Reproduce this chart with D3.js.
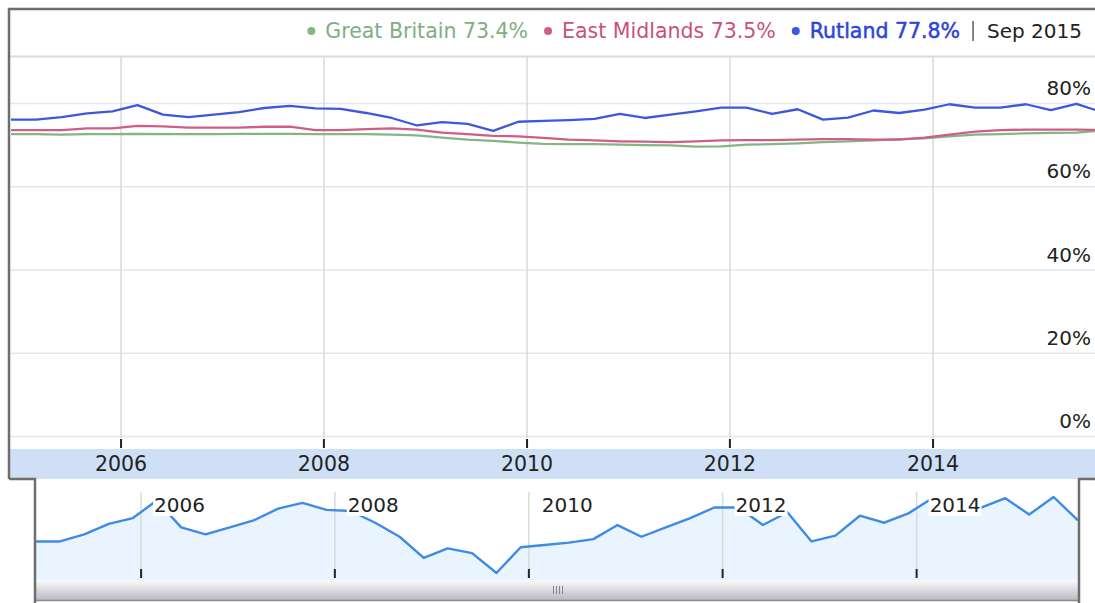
<!DOCTYPE html>
<html>
<head>
<meta charset="utf-8">
<script src="https://cdn.jsdelivr.net/npm/d3@7"></script>
<style>
  body { margin: 0; background: #fff; }
  svg { display: block; font-family: "DejaVu Sans", Verdana, sans-serif; }
</style>
</head>
<body>
<div id="chart"></div>
<script>
// quarterly periods (APS, period ending)
var periods = ["Dec 2004","Mar 2005","Jun 2005","Sep 2005","Dec 2005","Mar 2006","Jun 2006","Sep 2006",
  "Dec 2006","Mar 2007","Jun 2007","Sep 2007","Dec 2007","Mar 2008","Jun 2008","Sep 2008",
  "Dec 2008","Mar 2009","Jun 2009","Sep 2009","Dec 2009","Mar 2010","Jun 2010","Sep 2010",
  "Dec 2010","Mar 2011","Jun 2011","Sep 2011","Dec 2011","Mar 2012","Jun 2012","Sep 2012",
  "Dec 2012","Mar 2013","Jun 2013","Sep 2013","Dec 2013","Mar 2014","Jun 2014","Sep 2014",
  "Dec 2014","Mar 2015","Jun 2015","Sep 2015"];

var greatBritain = [72.5,72.5,72.4,72.5,72.5,72.6,72.5,72.5,72.5,72.6,72.6,72.6,72.5,72.5,72.5,72.4,
  72.2,71.7,71.2,70.9,70.5,70.2,70.1,70.1,70.0,69.9,69.8,69.5,69.6,
  70.0,70.1,70.3,70.6,70.8,71.0,71.3,71.5,72.0,72.4,72.5,72.7,72.8,72.9,73.4];

var eastMidlands = [73.5,73.5,73.5,73.9,73.9,74.5,74.4,74.1,74.1,74.1,
  74.3,74.3,73.5,73.5,73.7,73.9,73.6,72.9,72.5,72.1,
  72.0,71.6,71.2,71.0,70.8,70.7,70.6,70.8,71.0,71.1,
  71.1,71.2,71.3,71.3,71.2,71.2,71.7,72.4,73.1,73.5,
  73.6,73.6,73.6,73.5];

var rutland = [76.0,76.0,76.6,77.5,78.0,79.5,77.2,76.6,77.2,77.8,
  78.8,79.3,78.7,78.6,77.6,76.4,74.6,75.4,75.0,73.3,
  75.5,75.7,75.9,76.2,77.4,76.4,77.2,78.0,78.9,78.9,
  77.4,78.5,76.0,76.5,78.2,77.6,78.4,79.7,78.9,78.9,
  79.7,78.3,79.8,77.8];

var yTicks = [0, 20, 40, 60, 80];
var yearTicks = ["2006", "2008", "2010", "2012", "2014"];

var colors = { "Great Britain": "#84b684", "East Midlands": "#cf5e86", "Rutland": "#3d57dd" };
var legendColors = { "Great Britain": "#7fae7f", "East Midlands": "#c9507c", "Rutland": "#2e45d8" };

var parse = d3.timeParse("%b %Y");
var dates = periods.map(parse);
var series = [
  { name: "Great Britain", values: greatBritain },
  { name: "East Midlands", values: eastMidlands },
  { name: "Rutland", values: rutland }
];

var width = 1095, height = 603;
var svg = d3.select("#chart").append("svg")
  .attr("width", width).attr("height", height);

// main chart scales
var x = d3.scaleTime().domain(d3.extent(dates)).range([11, 1102]);
var y = d3.scaleLinear().domain([0, 80]).range([436, 103]);

// navigator scales
var xn = d3.scaleTime().domain(d3.extent(dates)).range([36, 1078]);
var yn = d3.scaleLinear().domain(d3.extent(rutland)).range([573, 497]);

var years = yearTicks.map(function(d) { return d3.timeParse("%Y")(d); });

// legend separator
svg.append("line").attr("x1", 10).attr("x2", width).attr("y1", 56.5).attr("y2", 56.5)
  .attr("stroke", "#dcdcdc").attr("stroke-width", 2);

// horizontal gridlines
svg.append("g").selectAll("line").data(yTicks).enter().append("line")
  .attr("x1", 10).attr("x2", width)
  .attr("y1", function(d) { return y(d) + 0.5; }).attr("y2", function(d) { return y(d) + 0.5; })
  .attr("stroke", "#e6e6f3").attr("stroke-width", 1.5);

// vertical gridlines main
svg.append("g").selectAll("line").data(years).enter().append("line")
  .attr("x1", function(d) { return x(d); }).attr("x2", function(d) { return x(d); })
  .attr("y1", 57).attr("y2", 438)
  .attr("stroke", "#d6dcd6").attr("stroke-width", 1.5);

// main ticks
svg.append("g").selectAll("line").data(years).enter().append("line")
  .attr("x1", function(d) { return x(d); }).attr("x2", function(d) { return x(d); })
  .attr("y1", 439).attr("y2", 448)
  .attr("stroke", "#222").attr("stroke-width", 2);

// y labels
svg.append("g").selectAll("text").data(yTicks).enter().append("text")
  .attr("x", 1091).attr("y", function(d) { return y(d) - 8; })
  .attr("text-anchor", "end")
  .style("font-size", "20px").style("fill", "#222")
  .text(function(d) { return d + "%"; });

// clip for the lines
svg.append("clipPath").attr("id", "mainClip").append("rect")
  .attr("x", 10).attr("y", 57).attr("width", width - 10).attr("height", 380);

var line = d3.line()
  .x(function(d, i) { return x(dates[i]); })
  .y(function(d) { return y(d); });

svg.append("g").attr("clip-path", "url(#mainClip)")
  .selectAll("path").data(series).enter().append("path")
  .attr("fill", "none")
  .attr("stroke", function(d) { return colors[d.name]; })
  .attr("stroke-width", 2.3)
  .attr("stroke-linejoin", "round")
  .attr("d", function(d) { return line(d.values); });

// axis band
svg.append("rect").attr("x", 10).attr("y", 449).attr("width", width - 10).attr("height", 30)
  .attr("fill", "#cfe0f6");

svg.append("g").selectAll("text").data(years).enter().append("text")
  .attr("x", function(d) { return x(d); }).attr("y", 471)
  .attr("text-anchor", "middle")
  .style("font-size", "20.5px").style("fill", "#222")
  .text(function(d, i) { return yearTicks[i]; });

// navigator
var navArea = d3.area()
  .x(function(d, i) { return xn(dates[i]); })
  .y0(580)
  .y1(function(d) { return yn(d); });
var navLine = d3.line()
  .x(function(d, i) { return xn(dates[i]); })
  .y(function(d) { return yn(d); });

svg.append("path").attr("d", navArea(rutland)).attr("fill", "#eaf4fe");

svg.append("g").selectAll("line").data(years).enter().append("line")
  .attr("x1", function(d) { return xn(d); }).attr("x2", function(d) { return xn(d); })
  .attr("y1", 492).attr("y2", 569)
  .attr("stroke", "#d6ddd6").attr("stroke-width", 1.5);

svg.append("path").attr("d", navLine(rutland))
  .attr("fill", "none").attr("stroke", "#3d8be6").attr("stroke-width", 2.4)
  .attr("stroke-linejoin", "round");

var navLabels = svg.append("g").selectAll("g").data(years).enter().append("g")
  .attr("transform", function(d) { return "translate(" + (xn(d) + 13) + ",512)"; });
navLabels.append("text")
  .style("font-size", "20px").style("fill", "#222")
  .text(function(d, i) { return yearTicks[i]; });
navLabels.each(function() {
  var g = d3.select(this);
  var bb = g.select("text").node().getBBox();
  g.insert("rect", "text").attr("x", bb.x - 1).attr("y", bb.y + 2)
    .attr("width", bb.width + 2).attr("height", bb.height - 3).attr("fill", "#fff");
});

svg.append("g").selectAll("line").data(years).enter().append("line")
  .attr("x1", function(d) { return xn(d); }).attr("x2", function(d) { return xn(d); })
  .attr("y1", 569).attr("y2", 578)
  .attr("stroke", "#222").attr("stroke-width", 2);

// scrollbar
var grad = svg.append("defs").append("linearGradient").attr("id", "scrollGrad")
  .attr("x1", 0).attr("x2", 0).attr("y1", 0).attr("y2", 1);
grad.append("stop").attr("offset", "0%").attr("stop-color", "#fbfbfb");
grad.append("stop").attr("offset", "100%").attr("stop-color", "#b9b9c3");
svg.append("rect").attr("x", 36).attr("y", 580).attr("width", 1043).attr("height", 20)
  .attr("fill", "url(#scrollGrad)");
svg.append("line").attr("x1", 35).attr("x2", 1079).attr("y1", 600.5).attr("y2", 600.5)
  .attr("stroke", "#8c8c8c").attr("stroke-width", 1.5);
svg.append("g").selectAll("line").data([0, 1, 2, 3]).enter().append("line")
  .attr("x1", function(d) { return 553.5 + d * 3; }).attr("x2", function(d) { return 553.5 + d * 3; })
  .attr("y1", 586).attr("y2", 594)
  .attr("stroke", "#85858f").attr("stroke-width", 1);

// frame
svg.append("path").attr("d", "M9,479V9H" + width)
  .attr("fill", "none").attr("stroke", "#6e6e6e").attr("stroke-width", 2.5);
svg.append("path").attr("d", "M9,479H35V" + height)
  .attr("fill", "none").attr("stroke", "#6e6e6e").attr("stroke-width", 2.5);
svg.append("path").attr("d", "M1079," + height + "V479H" + width)
  .attr("fill", "none").attr("stroke", "#6e6e6e").attr("stroke-width", 2.5);

// legend (laid out right to left)
var legend = svg.append("g").style("font-size", "20.5px");
var cursor = 1082;
var dateText = legend.append("text").attr("x", cursor).attr("y", 38)
  .attr("text-anchor", "end").style("fill", "#222").style("font-size", "20px")
  .text(periods[periods.length - 1]);
cursor -= dateText.node().getComputedTextLength() + 14;
legend.append("line").attr("x1", cursor).attr("x2", cursor).attr("y1", 21).attr("y2", 41)
  .attr("stroke", "#333").attr("stroke-width", 1.2);
cursor -= 13;
series.slice().reverse().forEach(function(s) {
  var last = s.values[s.values.length - 1];
  var t = legend.append("text").attr("x", cursor).attr("y", 38)
    .attr("text-anchor", "end")
    .style("fill", legendColors[s.name])
    .style("stroke", s.name === "Rutland" ? legendColors[s.name] : "none")
    .style("stroke-width", 0.5)
    .text(s.name + " " + last.toFixed(1) + "%");
  cursor -= t.node().getComputedTextLength() + 14;
  legend.append("circle").attr("cx", cursor).attr("cy", 31).attr("r", 4)
    .attr("fill", colors[s.name]);
  cursor -= 20;
});
</script>
</body>
</html>
